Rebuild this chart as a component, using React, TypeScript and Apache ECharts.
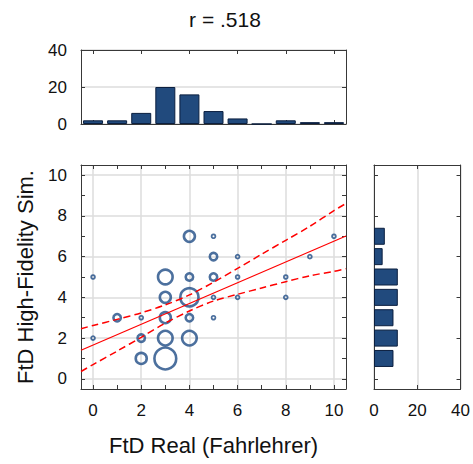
import React, { useEffect, useRef } from "react";
import * as echarts from "echarts";

// Marginal histogram of FtD Real (x), counts per integer score
const xValues = [0, 1, 2, 3, 4, 5, 6, 7, 8, 9, 10];
const xCounts = [2, 2, 6, 20, 16, 7, 3, 0, 2, 1, 1];

// Marginal histogram of FtD High-Fidelity Sim. (y)
const yLevels = [1, 2, 3, 4, 5, 6, 7];
const yCounts = [9, 11, 9, 11, 11, 4, 5];

// Bubble points (x, y, number of cases)
const bubbleX = [0, 0, 1, 2, 2, 2, 3, 3, 3, 3, 3, 4, 4, 4, 4, 4, 5, 5, 5, 5, 5, 6, 6, 6, 8, 8, 9, 10];
const bubbleY = [5, 2, 3, 3, 2, 1, 5, 4, 3, 2, 1, 7, 5, 4, 3, 2, 7, 6, 5, 4, 3, 6, 5, 4, 5, 4, 6, 7];
const bubbleN = [1, 1, 2, 1, 2, 3, 4, 3, 3, 4, 6, 3, 2, 5, 2, 4, 1, 2, 2, 1, 1, 1, 1, 1, 1, 1, 1, 1];

// Regression line and 95% confidence band
const fitX = [-0.5, 10.5];
const fitY = [1.4, 7.01];
const bandX = [-0.5, 0, 1, 2, 3, 4, 5, 6, 7, 8, 9, 10, 10.5];
const bandUpper = [2.46, 2.62, 2.92, 3.24, 3.63, 4.12, 4.74, 5.42, 6.12, 6.8, 7.49, 8.26, 8.61];
const bandLower = [0.36, 0.7, 1.36, 2.04, 2.74, 3.33, 3.82, 4.15, 4.46, 4.77, 5.06, 5.28, 5.41];

const mainTicks = [0, 1, 2, 3, 4, 5, 6, 7, 8, 9, 10];
const mainLabels = [0, 2, 4, 6, 8, 10];
const histTicks = [0, 20, 40];

const titleText = "r = .518";
const xName = "FtD Real (Fahrlehrer)";
const yName = "FtD High-Fidelity Sim.";

const FONT = "Liberation Sans";
const FRAME = "#383838";
const GRID = "#dcdcdc";
const BAR_FILL = "#214a7d";
const BAR_BORDER = "#0b1f3f";
const BUBBLE = "#1f4c86";
const TICK_FS = 17;

export default function App() {
  const ref = useRef<HTMLDivElement>(null);
  useEffect(() => {
    if (!ref.current) return;
    const chart = echarts.init(ref.current, undefined, { renderer: "svg" });
    const frameLine = { show: true, onZero: false, lineStyle: { color: FRAME, width: 1 } };
    const tickIn = (vals: number[] | null, len = 4) => ({
      show: true,
      inside: true,
      length: len,
      lineStyle: { color: FRAME, width: 1 },
      ...(vals ? { customValues: vals } : {}),
    });
    const labelStyle = { color: "#111", fontSize: TICK_FS, fontFamily: FONT };
    const catLabels = xValues.map(String);
    const yCats = xValues.map(String);
    const yFull = xValues.map((v) => {
      const i = yLevels.indexOf(v);
      return i >= 0 ? yCounts[i] : null;
    });

    const option: any = {
      animation: false,
      grid: [
        { left: 81, top: 50, width: 265, height: 74 },
        { left: 81, top: 165, width: 265, height: 224 },
        { left: 374, top: 165, width: 88, height: 224 },
      ],
      xAxis: [
        {
          gridIndex: 0, type: "category", data: catLabels, position: "bottom",
          axisLine: frameLine,
          axisTick: { ...tickIn(null), alignWithLabel: true, interval: 1 },
          axisLabel: { show: false }, splitLine: { show: false },
        },
        {
          gridIndex: 0, type: "category", data: catLabels, position: "top",
          axisLine: frameLine,
          axisTick: { ...tickIn(null), alignWithLabel: true, interval: 1 },
          axisLabel: { show: false }, splitLine: { show: false },
        },
        {
          gridIndex: 1, type: "value", min: -0.5, max: 10.5, position: "bottom",
          axisLine: frameLine, axisTick: tickIn(mainTicks),
          axisLabel: { ...labelStyle, margin: 13, customValues: mainLabels },
          splitLine: { show: false },
        },
        {
          gridIndex: 1, type: "value", min: -0.5, max: 10.5, position: "top",
          axisLine: frameLine, axisTick: tickIn(mainTicks),
          axisLabel: { show: false }, splitLine: { show: false },
        },
        {
          gridIndex: 1, type: "value", min: -0.5, max: 10.5, position: "bottom",
          axisLine: { show: false }, axisTick: { show: false, customValues: mainLabels },
          axisLabel: { show: false },
          splitLine: { show: true, lineStyle: { color: GRID, width: 1.5 } },
        },
        {
          gridIndex: 2, type: "value", min: 0, max: 40, interval: 20, position: "bottom",
          axisLine: frameLine, axisTick: tickIn(null),
          axisLabel: { ...labelStyle, margin: 13, customValues: histTicks },
          splitLine: { show: true, lineStyle: { color: GRID, width: 1.5 } },
        },
        {
          gridIndex: 2, type: "value", min: 0, max: 40, interval: 20, position: "top",
          axisLine: frameLine, axisTick: tickIn(null),
          axisLabel: { show: false }, splitLine: { show: false },
        },
      ],
      yAxis: [
        {
          gridIndex: 0, type: "value", min: 0, max: 40, interval: 20, position: "left",
          axisLine: frameLine, axisTick: tickIn(null),
          axisLabel: { ...labelStyle, margin: 14 },
          splitLine: { show: true, lineStyle: { color: GRID, width: 1.5 } },
        },
        {
          gridIndex: 0, type: "value", min: 0, max: 40, interval: 20, position: "right",
          axisLine: frameLine, axisTick: tickIn(null),
          axisLabel: { show: false }, splitLine: { show: false },
        },
        {
          gridIndex: 1, type: "value", min: -0.5, max: 10.5, position: "left",
          axisLine: frameLine, axisTick: tickIn(mainTicks),
          axisLabel: { ...labelStyle, margin: 14, customValues: mainLabels },
          splitLine: { show: false },
        },
        {
          gridIndex: 1, type: "value", min: -0.5, max: 10.5, position: "right",
          axisLine: frameLine, axisTick: tickIn(mainTicks),
          axisLabel: { show: false }, splitLine: { show: false },
        },
        {
          gridIndex: 1, type: "value", min: -0.5, max: 10.5, position: "left",
          axisLine: { show: false }, axisTick: { show: false, customValues: mainLabels },
          axisLabel: { show: false },
          splitLine: { show: true, lineStyle: { color: GRID, width: 1.5 } },
        },
        {
          gridIndex: 2, type: "category", data: yCats, position: "left",
          axisLine: frameLine,
          axisTick: { ...tickIn(null), alignWithLabel: true, interval: 1 },
          axisLabel: { show: false }, splitLine: { show: false },
        },
        {
          gridIndex: 2, type: "category", data: yCats, position: "right",
          axisLine: frameLine,
          axisTick: { ...tickIn(null), alignWithLabel: true, interval: 1 },
          axisLabel: { show: false }, splitLine: { show: false },
        },
      ],
      series: [
        {
          type: "bar", xAxisIndex: 0, yAxisIndex: 0,
          data: xCounts, barWidth: 20,
          itemStyle: { color: BAR_FILL, borderColor: BAR_BORDER, borderWidth: 1 },
        },
        {
          type: "bar", xAxisIndex: 5, yAxisIndex: 5,
          data: yFull, barWidth: 17,
          itemStyle: { color: BAR_FILL, borderColor: BAR_BORDER, borderWidth: 1 },
        },
        {
          type: "scatter", xAxisIndex: 2, yAxisIndex: 2, z: 3,
          data: bubbleX.map((x, i) => ({
            value: [x, bubbleY[i], bubbleN[i]],
            itemStyle: { borderWidth: bubbleN[i] === 1 ? 1.8 : 2.6 },
          })),
          symbol: "circle",
          symbolSize: (v: number[]) => 3.6 * v[2] + 0.2,
          itemStyle: { color: "rgba(255,255,255,0)", borderColor: BUBBLE },
        },
        {
          type: "line", xAxisIndex: 2, yAxisIndex: 2, z: 4,
          data: fitX.map((x, i) => [x, fitY[i]]),
          symbol: "none", lineStyle: { color: "#ff0000", width: 1.2 },
        },
        {
          type: "line", xAxisIndex: 2, yAxisIndex: 2, z: 4, smooth: 0.3,
          data: bandX.map((x, i) => [x, bandUpper[i]]),
          symbol: "none", lineStyle: { color: "#ff0000", width: 1.5, type: [7, 4] },
        },
        {
          type: "line", xAxisIndex: 2, yAxisIndex: 2, z: 4, smooth: 0.3,
          data: bandX.map((x, i) => [x, bandLower[i]]),
          symbol: "none", lineStyle: { color: "#ff0000", width: 1.5, type: [7, 4] },
        },
      ],
      graphic: [
        {
          type: "text", x: 225, y: 19,
          style: {
            text: titleText, fill: "#111", fontSize: 21, fontFamily: FONT,
            align: "center", verticalAlign: "middle", textAlign: "center", textVerticalAlign: "middle",
          },
        },
        {
          type: "text", x: 213.5, y: 445,
          style: {
            text: xName, fill: "#111", fontSize: 22, fontFamily: FONT,
            align: "center", verticalAlign: "middle", textAlign: "center", textVerticalAlign: "middle",
          },
        },
        {
          type: "text", x: 25, y: 277, rotation: Math.PI / 2,
          style: {
            text: yName, fill: "#111", fontSize: 22, fontFamily: FONT,
            align: "center", verticalAlign: "middle", textAlign: "center", textVerticalAlign: "middle",
          },
        },
      ],
    };
    chart.setOption(option);
    return () => chart.dispose();
  }, []);
  return (
    <div
      ref={ref}
      style={{ position: "fixed", left: 0, top: 0, width: 473, height: 464, background: "#fff" }}
    />
  );
}
